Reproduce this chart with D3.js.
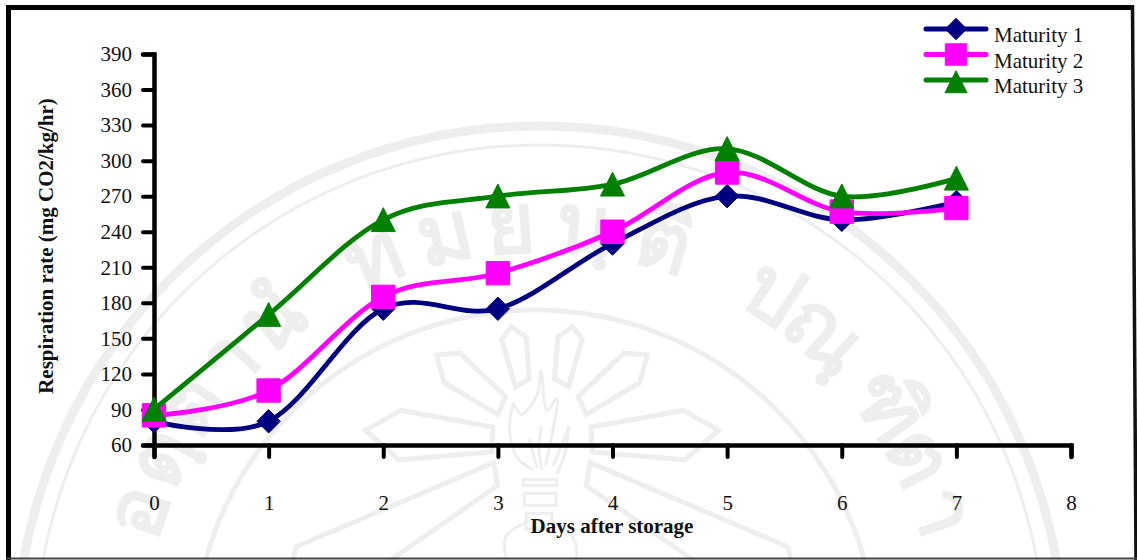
<!DOCTYPE html>
<html><head><meta charset="utf-8">
<script src="https://cdn.jsdelivr.net/npm/d3@7"></script>
<style>
html,body{margin:0;padding:0;background:#fff;overflow:hidden}
svg{display:block}
text{font-family:"Liberation Serif","Times New Roman",serif;fill:#111}
</style></head><body>
<svg id="c" width="1137" height="560"></svg>
<script>
const days = [0,1,2,3,4,5,6,7];
const xTicks = [0,1,2,3,4,5,6,7,8];
const yTicks = [60,90,120,150,180,210,240,270,300,330,360,390];
const maturity1 = [80,80,175,175,230,270,250,265];
const maturity2 = [85,106,185,205,240,290,257,260];
const maturity3 = [90,170,250,270,280,310,270,285];
const seriesNames = ["Maturity 1","Maturity 2","Maturity 3"];
const seriesValues = [maturity1,maturity2,maturity3];
const seriesColors = ["#000080","#ff00ff","#008000"];
const xTitle = "Days after storage";
const yTitle = "Respiration rate (mg CO2/kg/hr)";
const sealGlyphs = ["อ","ตฺ","ต","า","นํ","ท","ม","ย","นฺ","ติ","ป","ณฺ","ฑิ","ต","า"];
const sealAngles = [-71,-63,-55,-47,-39,-23,-13,-4,6,17,33,42,55,63,71];

const svg = d3.select("#c");
const x = d3.scaleLinear().domain([0,8]).range([154,1071]);
const y = d3.scaleLinear().domain([60,390]).range([445,54]);

/* watermark seal */
const wm = svg.append("g").attr("fill","none").attr("stroke","#eeeeee");
const cx = 540, cy = 650;
wm.append("circle").attr("cx",cx).attr("cy",cy).attr("r",524).attr("stroke-width",9);
wm.append("circle").attr("cx",cx).attr("cy",cy).attr("r",505).attr("stroke-width",3);
wm.append("circle").attr("cx",535).attr("cy",652).attr("r",342).attr("stroke-width",5);
const Z = ([a,b]) => [300+a/2.53, 280+b/2.53];
const petals = [
  [[510,150],[535,118],[572,145],[580,250],[545,270]],
  [[345,190],[405,185],[520,295],[500,340],[365,260]],
  [[165,380],[255,330],[488,372],[485,435],[250,455]],
  [[490,462],[-10,675],[-60,900],[40,840],[500,520]]
];
const lineClosed = d3.line().curve(d3.curveLinearClosed);
const seal = wm.append("g").attr("stroke-width",5);
[false,true].forEach(m => {
  const g = seal.append("g");
  if (m) g.attr("transform",`translate(${2*(300+612/2.53)},0) scale(-1,1)`);
  petals.forEach(p => g.append("path").attr("d",lineClosed(p.map(Z))));
});
const flame = wm.append("g").attr("stroke-width",3);
const curve = d3.line().curve(d3.curveCatmullRom);
[
  [[540,310],[530,380],[550,450],[590,480]],
  [[540,310],[560,340],[600,290],[610,230],[625,330],[650,300],[640,380],[620,470]],
  [[680,370],[665,410],[640,470]],
  [[680,370],[670,440],[650,490]],
  [[580,400],[590,440],[600,475]],
  [[610,370],[605,430],[612,480]]
].forEach(p => flame.append("path").attr("d",curve(p.map(Z))));
[[565,505,85,15],[568,540,80,30],[572,590,65,40]].forEach(r => {
  const [a,b] = Z([r[0],r[1]]);
  wm.append("rect").attr("x",a).attr("y",b).attr("width",r[2]/2.53).attr("height",r[3]/2.53).attr("stroke-width",3);
});
[
  [[580,610],[520,650],[530,720],[570,745]],
  [[640,610],[695,660],[690,760],[660,830]],
  [[200,840],[260,750],[350,720],[560,750]]
].forEach(p => wm.append("path").attr("stroke-width",3).attr("d",curve(p.map(Z))));

const sealG = svg.append("g");
sealGlyphs.forEach((g,i) => {
  sealG.append("text")
    .attr("transform",`translate(${cx},${cy}) rotate(${sealAngles[i]}) translate(0,${-398})`)
    .attr("text-anchor","middle")
    .style("fill","#eeeeee").style("font-family","'Noto Sans','DejaVu Sans',sans-serif")
    .style("font-size","84px").style("font-weight","bold").text(g);
});

/* frame */
const frameLine = d3.line();
svg.append("path").attr("d",frameLine([[8.5,560],[8.5,7.5],[1133,7.5]])).attr("fill","none").attr("stroke","#000").attr("stroke-width",5);
svg.append("path").attr("d",frameLine([[1132.5,5],[1136,560]])).attr("fill","none").attr("stroke","#111").attr("stroke-width",3.5);
svg.append("path").attr("d",frameLine([[6,558.5],[1137,558.5]])).attr("fill","none").attr("stroke","#444").attr("stroke-width",2);

/* axes */
const xAxis = svg.append("g").attr("transform",`translate(0,${y(60)})`)
  .call(d3.axisBottom(x).tickValues(xTicks).tickSize(12).tickPadding(38).tickFormat(d3.format("d")));
const yAxis = svg.append("g").attr("transform",`translate(${x(0)},0)`)
  .call(d3.axisLeft(y).tickValues(yTicks).tickSize(11).tickPadding(11).tickFormat(d3.format("d")));
[xAxis,yAxis].forEach(g => {
  g.attr("font-family",null).attr("font-size",null);
  g.selectAll("path.domain").attr("stroke","#000").attr("stroke-width",4.5).attr("stroke-linecap","round");
  g.selectAll(".tick line").attr("stroke","#000").attr("stroke-width",4).attr("stroke-linecap","round");
  g.selectAll(".tick text").style("font-size","21px").style("fill","#111");
});

svg.append("text").attr("x",612).attr("y",533).attr("text-anchor","middle")
  .style("font-size","21px").style("font-weight","bold").text(xTitle);
svg.append("text").attr("transform","translate(53,246) rotate(-90)").attr("text-anchor","middle")
  .style("font-size","21px").style("font-weight","bold").text(yTitle);

/* series */
const markerPath = i => {
  const s = 11.7;
  if (i===0) return lineClosed([[0,-s],[s,0],[0,s],[-s,0]]);
  if (i===1) return lineClosed([[-s,-s],[s,-s],[s,s],[-s,s]]);
  return lineClosed([[0,-s-.5],[s+.3,s],[-s-.3,s]]);
};
const lineGen = d3.line().x((d,i)=>x(days[i])).y(d=>y(d)).curve(d3.curveCardinal.tension(0));
seriesValues.forEach((vals,i) => {
  const g = svg.append("g");
  g.append("path").attr("d",lineGen(vals)).attr("fill","none")
    .attr("stroke",seriesColors[i]).attr("stroke-width",4.8);
  g.selectAll("path.m").data(vals).join("path").attr("class","m")
    .attr("d",markerPath(i)).attr("fill",seriesColors[i])
    .attr("stroke",seriesColors[i]).attr("stroke-width",1).attr("stroke-linejoin","round")
    .attr("transform",(d,j)=>`translate(${x(days[j])},${y(d)})`);
});

/* legend */
const legendY = d3.scalePoint().domain(seriesNames).range([29,80]);
seriesNames.forEach((n,i) => {
  const g = svg.append("g").attr("transform",`translate(0,${legendY(n)})`);
  g.append("line").attr("x1",926).attr("x2",986).attr("stroke",seriesColors[i])
    .attr("stroke-width",5).attr("stroke-linecap","round");
  g.append("path").attr("d",markerPath(i)).attr("fill",seriesColors[i]).attr("stroke",seriesColors[i])
    .attr("stroke-linejoin","round").attr("transform",`translate(956,${i===2?2:0}) scale(.92)`);
  g.append("text").attr("x",994).attr("y",13).style("font-size","21px").text(n);
});
</script>
</body></html>
